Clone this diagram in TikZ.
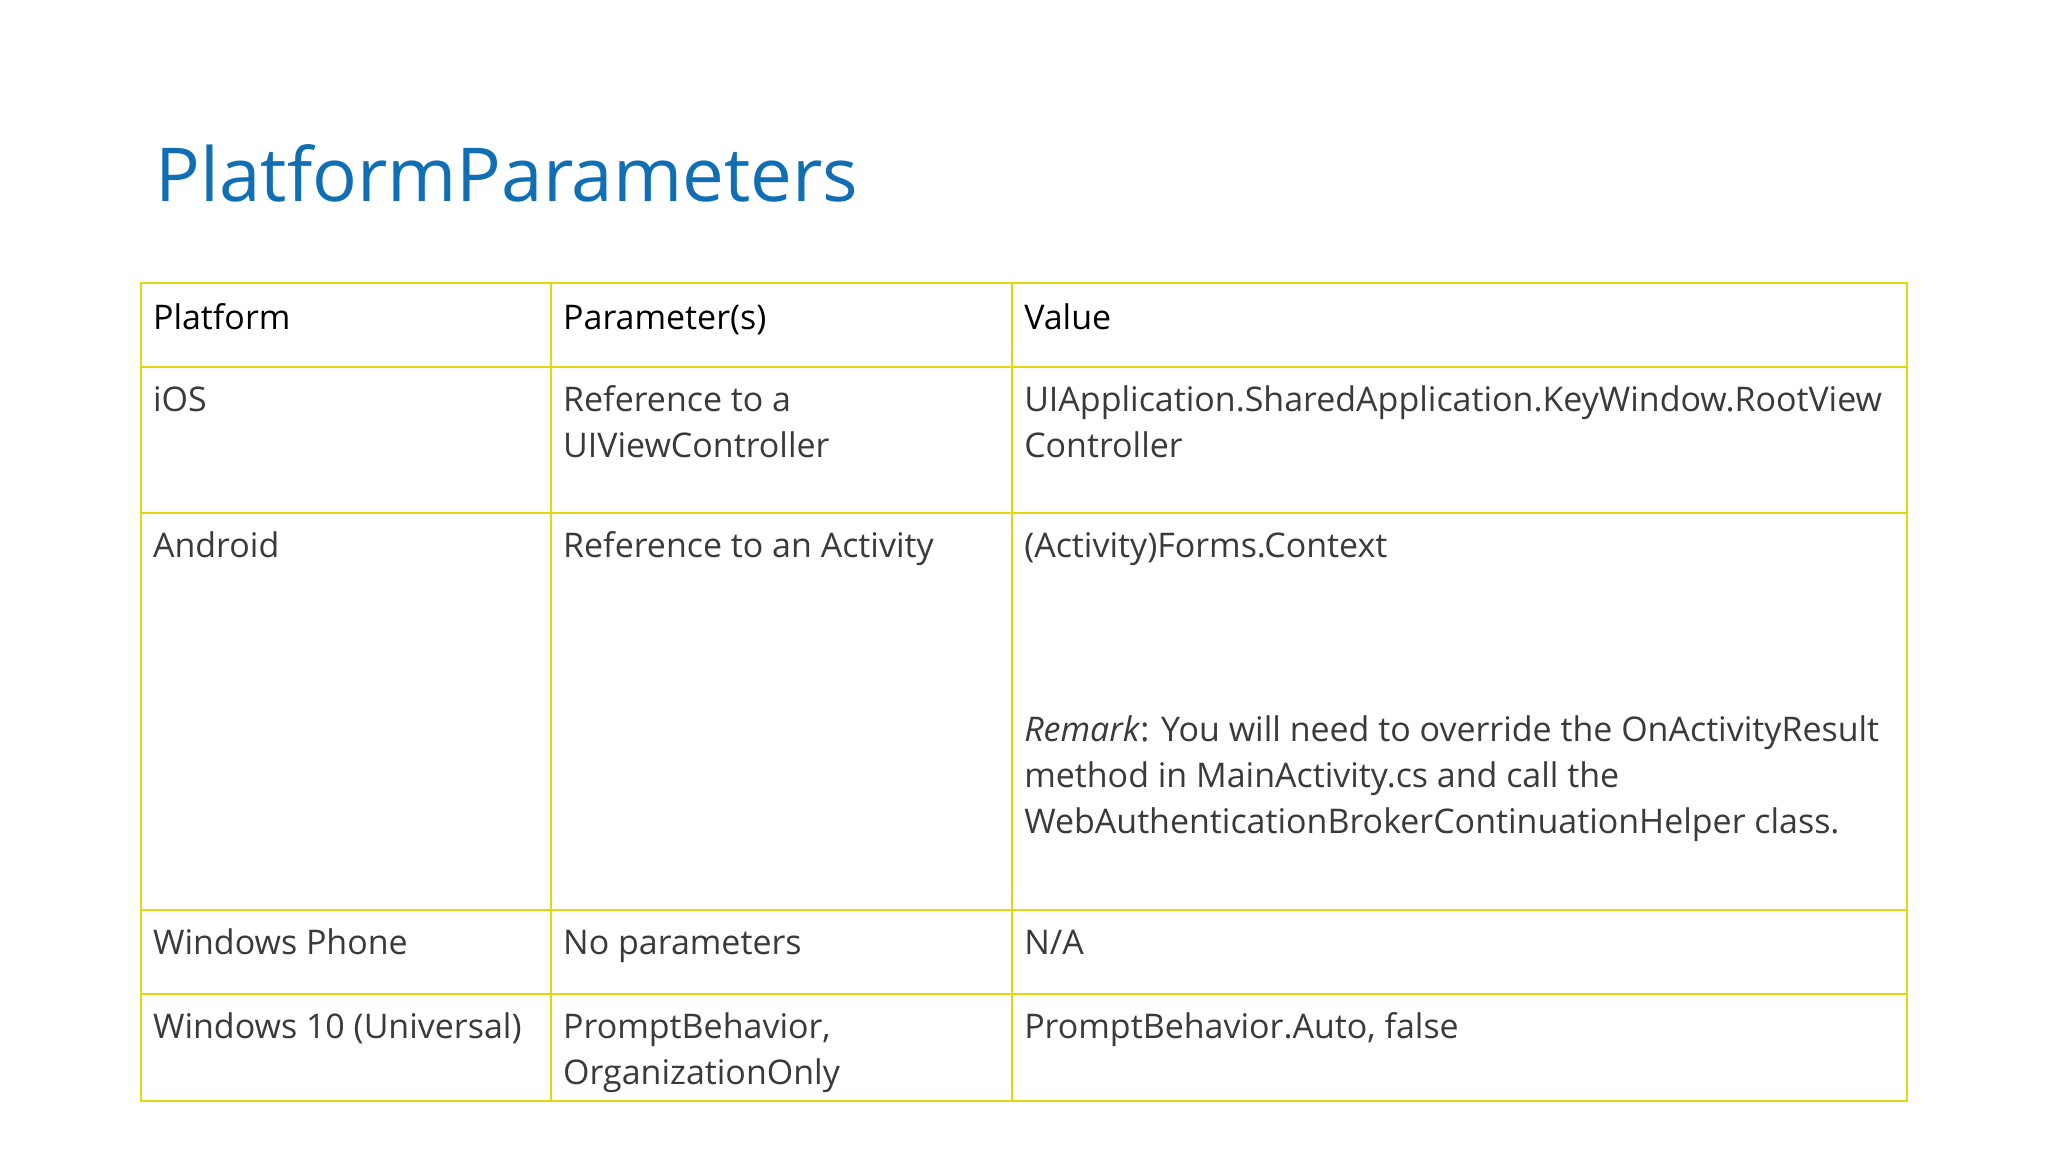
\documentclass[tikz,border=0pt]{standalone}
\usepackage{fontspec}
\setmainfont{Open Sans}
\begin{document}
\begin{tikzpicture}[x=1pt,y=-1pt,
  grid/.style={draw=tabline,line width=1.6pt},
  cell/.style={anchor=base west,inner sep=0pt,font=\fontsize{26}{35}\selectfont,text=bodytext},
  head/.style={cell,text=black}]
\definecolor{tabline}{HTML}{E2D60E}
\definecolor{bodytext}{HTML}{3A3A3A}
\definecolor{titleblue}{HTML}{106EB4}
\useasboundingbox[fill=white] (0,0) rectangle (1568,882);
\node[anchor=base west,inner sep=0pt,font=\fontsize{57}{70}\selectfont,text=titleblue] (title) at (119,154) {PlatformParameters};
% table grid
\draw[grid] (108,217) rectangle (1460,843);
\foreach \y in {281,393,697,761} \draw[grid] (108,\y) -- (1460,\y);
\foreach \x in {422,775} \draw[grid] (\x,217) -- (\x,843);
% header
\node[head] (h1) at (117,252) {Platform};
\node[head] (h2) at (431,252) {Parameter(s)};
\node[head] (h3) at (784,252) {Value};
% iOS
\node[cell] (i1) at (117,315) {iOS};
\node[cell] (i2) at (431,315) {Reference to a};
\node[cell] (i2b) at (431,350) {UIViewController};
\node[cell] (i3) at (784,315) {UIApplication.SharedApplication.KeyWindow.RootView};
\node[cell] (i3b) at (784,350) {Controller};
% Android
\node[cell] (a1) at (117,427) {Android};
\node[cell] (a2) at (431,427) {Reference to an Activity};
\node[cell] (a3) at (784,427) {(Activity)Forms.Context};
\node[cell] (r1) at (784,568) {\textit{Remark}: You will need to override the OnActivityResult};
\node[cell] (r2) at (784,603) {method in MainActivity.cs and call the};
\node[cell] (r3) at (784,638) {WebAuthenticationBrokerContinuationHelper class.};
% WP
\node[cell] (w1) at (117,731) {Windows Phone};
\node[cell] (w2) at (431,731) {No parameters};
\node[cell] (w3) at (784,731) {N/A};
% W10
\node[cell] (u1) at (117,795) {Windows 10 (Universal)};
\node[cell] (u2) at (431,795) {PromptBehavior,};
\node[cell] (u2b) at (431,830) {OrganizationOnly};
\node[cell] (u3) at (784,795) {PromptBehavior.Auto, false};
\end{tikzpicture}
\end{document}
